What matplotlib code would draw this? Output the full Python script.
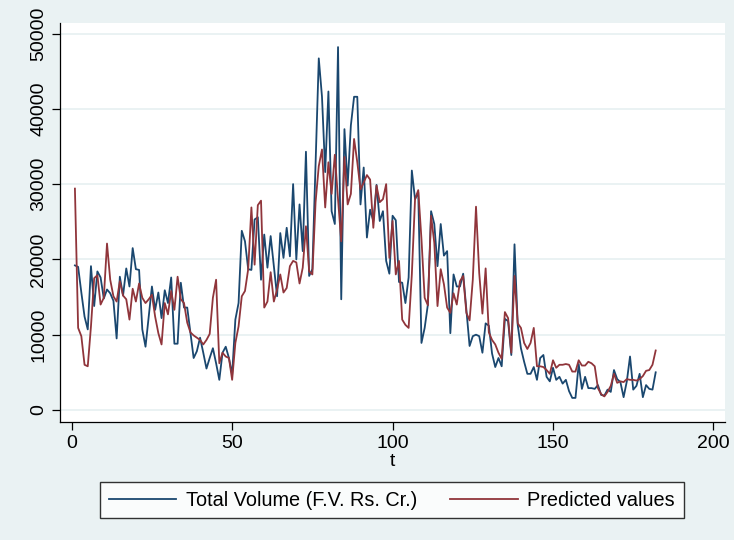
import numpy as np
import matplotlib.pyplot as plt

plt.rcParams['font.family'] = ['Liberation Sans', 'DejaVu Sans']

# observed total volume and fitted values, t = 1..182
total_volume = [
    19200, 19000, 15600, 12400, 10700, 19100, 13800, 18400, 17600, 14800,
    16000, 15500, 14500, 9500, 17700, 15200, 18800, 16400, 21500, 18700,
    18600, 10700, 8400, 12400, 16400, 13300, 15600, 12200, 15900, 14200,
    17600, 8800, 8800, 16900, 13600, 13600, 10200, 6900, 7800, 9600,
    7600, 5500, 6900, 8200, 6200, 4000, 7600, 8400, 6900, 4700,
    12000, 14200, 23800, 22400, 18700, 18600, 25300, 25600, 17300, 23300,
    18900, 23100, 19100, 15100, 23500, 20200, 24200, 20400, 30000, 20000,
    27300, 21100, 34300, 17800, 18700, 32900, 46700, 41600, 31600, 42300,
    26400, 24700, 48200, 14700, 37300, 29800, 37800, 41600, 41600, 27300,
    32200, 22900, 26600, 25100, 29900, 25100, 26400, 19800, 18100, 25800,
    25200, 17000, 16900, 14200, 17600, 31800, 28000, 28900, 8900, 10900,
    14000, 26400, 24700, 19100, 24700, 20500, 21100, 10200, 18000, 16400,
    16400, 18100, 13300, 8500, 9800, 10000, 9800, 7600, 11500, 11200,
    7500, 5700, 6900, 5800, 12100, 11800, 7300, 22000, 11300, 8200,
    6400, 4800, 4800, 5700, 4000, 6900, 7300, 4400, 3800, 5600,
    4000, 4400, 3500, 4000, 2500, 1600, 1600, 6100, 2800, 4400,
    2900, 2900, 2800, 3300, 2000, 1900, 2700, 2400, 5300, 4100,
    3700, 1700, 3800, 7100, 2700, 3200, 4800, 1700, 3300, 2800,
    2700, 5000,
]

predicted = [
    29400, 10900, 9800, 6000, 5800, 11100, 17500, 17900, 14000, 14900,
    22100, 17300, 15100, 14400, 17100, 15200, 14700, 12000, 16100, 14400,
    16800, 14900, 14200, 14700, 15300, 12400, 10200, 8700, 14200, 12700,
    15800, 13300, 17700, 14700, 14200, 11600, 10300, 9900, 9600, 9300,
    8700, 9300, 10100, 14900, 17300, 6200, 7600, 7100, 6900, 4000,
    8900, 11100, 15100, 15800, 18700, 26900, 19300, 27200, 27800, 13600,
    14400, 18300, 14400, 16000, 18000, 15600, 16200, 19100, 19800, 19600,
    16800, 18900, 24400, 18400, 18000, 27600, 32400, 34600, 26900, 32900,
    28700, 33900, 28000, 22400, 33600, 27300, 28700, 36000, 32900, 29300,
    30200, 31200, 30600, 24200, 29800, 27600, 28000, 30000, 20200, 25100,
    18000, 19800, 12000, 11300, 10900, 18000, 28000, 29200, 22700, 14900,
    13900, 25800, 22200, 13800, 18700, 16700, 13600, 12900, 15500, 14000,
    17100, 17800, 12900, 11900, 17300, 27000, 18200, 12800, 18800, 10300,
    9300, 8700, 7600, 6800, 13000, 12200, 7600, 17800, 11500, 10900,
    8900, 8100, 8900, 10900, 5800, 5800, 5700, 5300, 4800, 6600,
    5600, 6000, 6000, 6100, 6000, 5100, 5100, 6600, 5900, 5900,
    6400, 6200, 5800, 2900, 2100, 1800, 2400, 3200, 4800, 3600,
    3800, 3700, 4100, 4000, 4000, 3900, 4100, 4500, 5200, 5300,
    6000, 7900,
]

t = np.arange(1, len(total_volume) + 1)
x_ticks = [0, 50, 100, 150, 200]
y_ticks = [0, 10000, 20000, 30000, 40000, 50000]

bg = '#EAF2F3'
fig = plt.figure(figsize=(7.34, 5.4), dpi=100, facecolor=bg)
ax = fig.add_axes([60/734, 1 - 422/540, 665/734, 399/540])
ax.set_facecolor('white')

ax.plot(t, total_volume, color='#1A476F', lw=1.3, label='Total Volume (F.V. Rs. Cr.)')
ax.plot(t, predicted, color='#90353B', lw=1.3, label='Predicted values')

ax.set_xlim(-3.65, 203.6)
ax.set_ylim(-1600, 51400)
ax.set_xticks(x_ticks)
ax.set_yticks(y_ticks)
ax.set_yticklabels([str(v) for v in y_ticks], rotation=90, va='center')
ax.yaxis.grid(True, color=bg, lw=1.4)
ax.set_axisbelow(True)

for s in ['top', 'right']:
    ax.spines[s].set_visible(False)
for s in ['left', 'bottom']:
    ax.spines[s].set_color('black')
    ax.spines[s].set_linewidth(0.9)
ax.tick_params(axis='both', direction='out', length=6, width=0.9,
               labelsize=14, colors='black', pad=3)
ax.set_xlabel('t', fontsize=14, labelpad=1)

fig.legend(loc='center', bbox_to_anchor=(100/734, 1 - 518/540, 584/734, 36/540),
           mode='expand', ncol=2, frameon=True, fancybox=False, edgecolor='black',
           fontsize=14.3, handlelength=3.4, handletextpad=0.5, borderaxespad=0,
           borderpad=0.45)

plt.savefig('out.png', dpi=100, facecolor=bg)
